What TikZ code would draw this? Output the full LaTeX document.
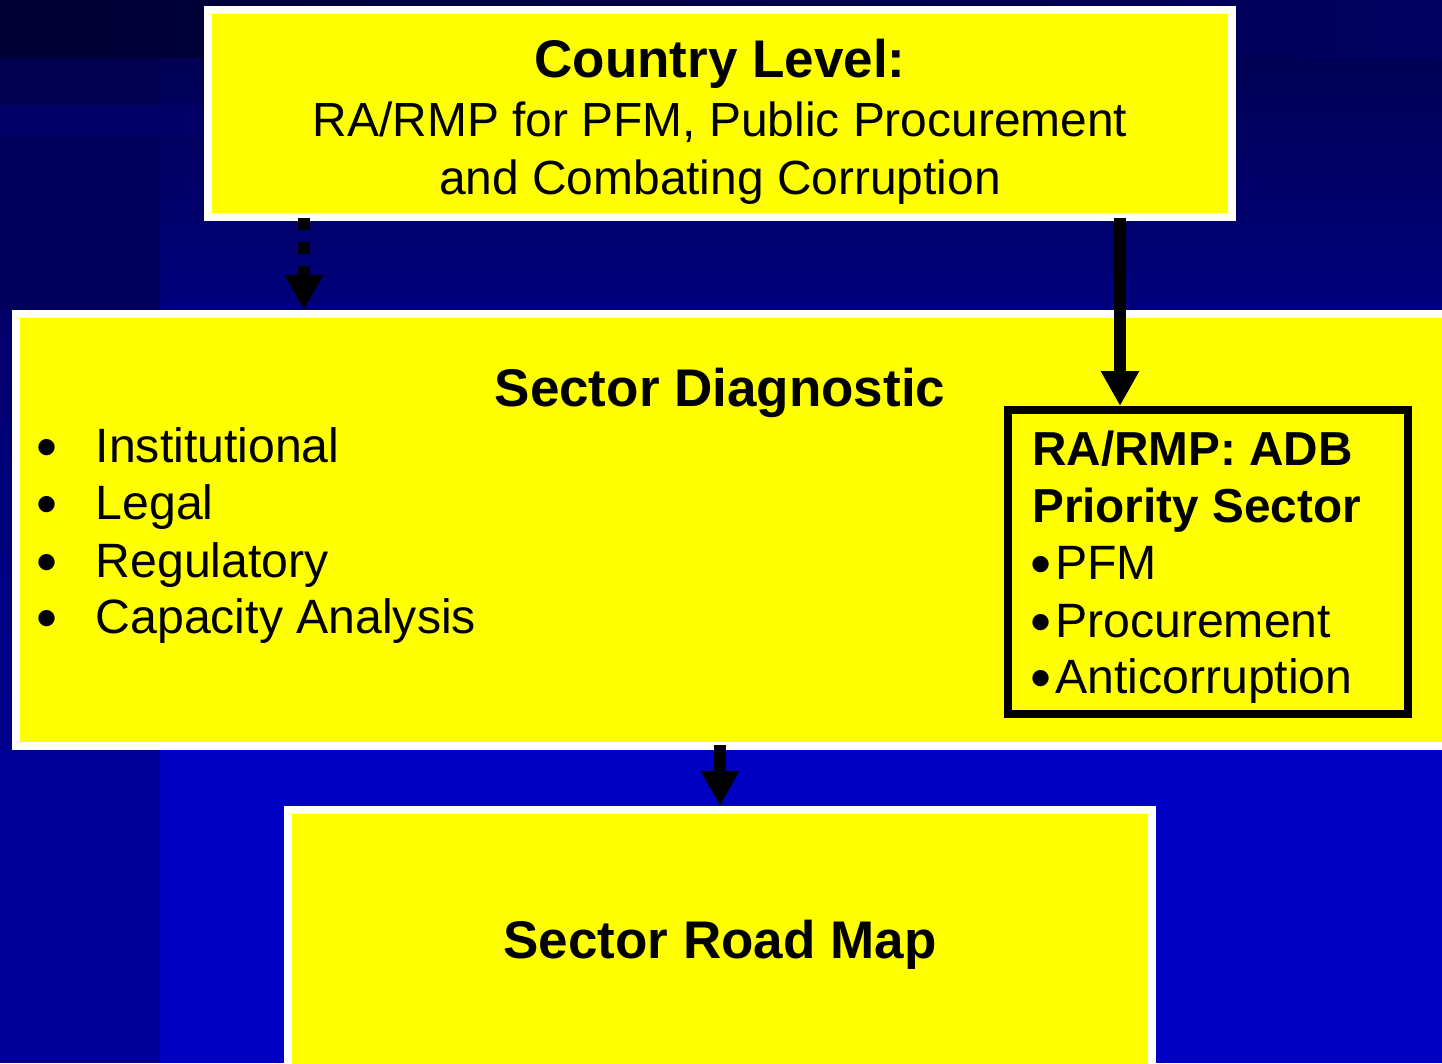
\documentclass[tikz,border=0pt]{standalone}
\usepackage{fontspec}
\setmainfont{Liberation Sans}
\usetikzlibrary{arrows.meta}
\definecolor{ybox}{RGB}{255,255,0}
\definecolor{bgtopL}{RGB}{0,0,50}
\definecolor{bgtopR}{RGB}{0,0,96}
\definecolor{bgA}{RGB}{0,0,84}
\definecolor{bgB}{RGB}{0,0,124}
\definecolor{bgC}{RGB}{0,0,190}
\definecolor{bgD}{RGB}{0,0,196}
\definecolor{lcA}{RGB}{0,0,79}
\definecolor{lcS}{RGB}{0,0,102}
\definecolor{lcB}{RGB}{0,0,90}
\definecolor{lcC}{RGB}{0,0,108}
\definecolor{lcD}{RGB}{0,0,140}
\definecolor{lcE}{RGB}{0,0,150}
\begin{document}
\begin{tikzpicture}[x=1pt,y=-1pt,
  whitebox/.style={draw=white, line width=8pt, fill=ybox, inner sep=0pt},
  blackbox/.style={draw=black, line width=8pt, inner sep=0pt},
  titletext/.style={font=\fontsize{53}{60}\selectfont\bfseries, anchor=base, inner sep=0pt},
  bodyc/.style={font=\fontsize{47.9}{57}\selectfont, anchor=base, inner sep=0pt},
  bodyl/.style={font=\fontsize{48.2}{57}\selectfont, anchor=base west, inner sep=0pt},
  boldl/.style={font=\fontsize{47.7}{57}\selectfont\bfseries, anchor=base west, inner sep=0pt},
  bulletmark/.style={font=\fontsize{60}{60}\selectfont, anchor=base, inner sep=0pt},
  arrowsolid/.style={line width=12pt, -{Triangle[width=36pt,length=35pt]}},
  arrowdash/.style={arrowsolid, dash pattern=on 12pt off 12pt}]
\clip (0,0) rectangle (1442,1063);
% ---- background ----
\fill[bgA] (0,0) rectangle (1442,1063);
\shade[left color=bgtopL, right color=bgtopR] (0,0) rectangle (1442,58);
\shade[top color=bgA, bottom color=bgB] (160,58) rectangle (1442,310);
\shade[top color=bgB, bottom color=bgC] (160,310) rectangle (1442,750);
\fill[bgD] (160,750) rectangle (1442,1063);
\fill[lcA] (0,58) rectangle (160,105);
\fill[lcS] (0,105) rectangle (204,137);
\fill[lcB] (0,137) rectangle (160,310);
\shade[top color=lcC, bottom color=lcD] (0,310) rectangle (160,750);
\fill[lcE] (0,750) rectangle (160,1063);
% ---- boxes ----
\node[whitebox, minimum width=1024pt, minimum height=207pt] (country) at (720,113.5) {};
\node[whitebox, minimum width=1444pt, minimum height=432pt] (diag) at (738,530) {};
\node[whitebox, minimum width=864pt, minimum height=270pt] (road) at (720,945) {};
\node[blackbox, minimum width=400pt, minimum height=304pt] (adb) at (1208,562) {};
% ---- texts ----
\node[titletext] (countryT) at (720,77) {Country Level:};
\node[bodyc] (countryL1) at (720,136) {RA/RMP for PFM, Public Procurement};
\node[bodyc] (countryL2) at (720,194) {and Combating Corruption};
\node[titletext] (diagT) at (720,406) {Sector Diagnostic};
\node[bulletmark] (b1) at (47,467) {•};
\node[bulletmark] (b2) at (47,524) {•};
\node[bulletmark] (b3) at (47,582) {•};
\node[bulletmark] (b4) at (47,638) {•};
\node[bodyl] (l1) at (95.5,462) {Institutional};
\node[bodyl] (l2) at (95.5,519) {Legal};
\node[bodyl] (l3) at (95.5,577) {Regulatory};
\node[bodyl] (l4) at (95.5,633) {Capacity Analysis};
\node[boldl] (adbT1) at (1032,465) {RA/RMP: ADB};
\node[boldl] (adbT2) at (1032,522) {Priority Sector};
\node[bulletmark] (ab1) at (1040.5,584) {•};
\node[bulletmark] (ab2) at (1040.5,642) {•};
\node[bulletmark] (ab3) at (1040.5,698) {•};
\node[bodyl] (a1) at (1055,579) {PFM};
\node[bodyl] (a2) at (1055,637) {Procurement};
\node[bodyl] (a3) at (1055,693) {Anticorruption};
\node[titletext] (roadT) at (720,958) {Sector Road Map};
% ---- connectors ----
\coordinate (dotx) at (304,0);
\coordinate (rightx) at (1120,0);
\coordinate (midx) at (720,0);
\draw[arrowdash, shorten <=-3pt] (country.south -| dotx) -- (diag.north -| dotx);
\draw[arrowsolid, shorten <=-3pt] (country.south -| rightx) -- (adb.north -| rightx);
\draw[arrowsolid, shorten <=-5pt] (diag.south -| midx) -- (road.north -| midx);
\end{tikzpicture}
\end{document}
